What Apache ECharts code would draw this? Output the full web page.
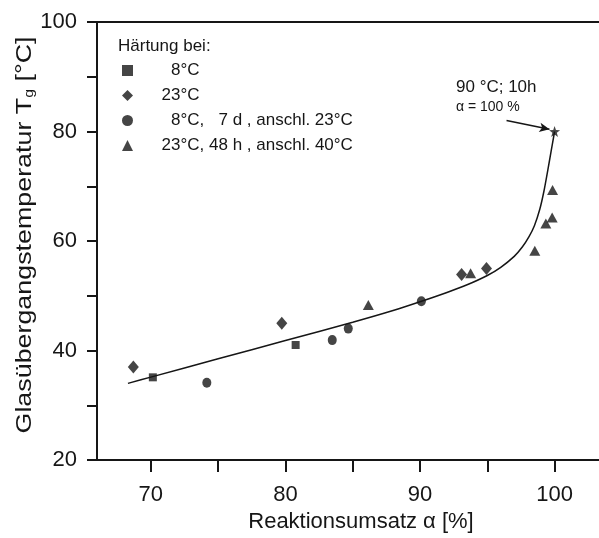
<!DOCTYPE html>
<html>
<head>
<meta charset="utf-8">
<script src="https://cdn.jsdelivr.net/npm/echarts@6/dist/echarts.min.js"></script>
<style>
  html, body { margin: 0; padding: 0; background: #fff; }
  #chart { width: 599px; height: 538px; }
</style>
</head>
<body>
<div id="chart"></div>
<script>
// Reaktionsumsatz α [%] vs. Glasübergangstemperatur Tg [°C]
const xTicks = [70, 75, 80, 85, 90, 95, 100];
const xLabels = [70, 80, 90, 100];
const yLabels = [20, 40, 60, 80, 100];

const seriesNames = ['  8°C', '23°C', '  8°C,   7 d , anschl. 23°C', '23°C, 48 h , anschl. 40°C'];

// Härtung bei 8 °C
const cure8 = [[70.15, 35.1], [80.76, 41.0]];
// Härtung bei 23 °C
const cure23 = [[68.7, 37.0], [79.73, 45.0], [93.09, 53.9], [94.94, 55.0]];
// 8 °C, 7 d, anschließend 23 °C
const cure8then23 = [[74.16, 34.1], [83.48, 41.9], [84.67, 44.0], [90.1, 49.0]];
// 23 °C, 48 h, anschließend 40 °C
const cure23then40 = [[86.16, 48.3], [93.76, 54.1], [98.53, 58.2], [99.35, 63.2], [99.82, 64.3], [99.85, 69.3]];
// Vollständig ausgehärtet: 90 °C, 10 h
const fullCure = [[100, 80]];

// Ausgleichskurve Tg(α)
const fitCurve = [
  [68.3, 34.0], [70, 35.14], [75, 38.48], [80, 41.82], [85, 45.16], [88, 47.3],
  [90, 48.9], [92, 50.6], [93.5, 52.0], [95, 53.7], [96, 55.2], [97, 57.2],
  [97.6, 58.9], [98.1, 60.8], [98.5, 62.8], [98.9, 65.8], [99.2, 69.0],
  [99.5, 73.0], [99.75, 76.5], [100, 80]
];

// Pfeil zur Beschriftung des Endpunkts
const arrowFrom = [96.43, 82.0];
const arrowTo = [99.62, 80.4];

const ink = '#161616';
const font = '"Liberation Sans", Arial, Helvetica, sans-serif';
const starPath = 'path://M0,-10L2.35,-3.24L9.51,-3.09L3.8,1.24L5.88,8.09L0,4L-5.88,8.09L-3.8,1.24L-9.51,-3.09L-2.35,-3.24Z';

const chart = echarts.init(document.getElementById('chart'), null, { renderer: 'canvas' });

chart.setOption({
  animation: false,
  backgroundColor: '#fff',
  textStyle: { fontFamily: font, color: ink },
  title: {
    text: 'Härtung bei:',
    left: 118,
    top: 38,
    padding: 0,
    textStyle: { fontFamily: font, fontSize: 17, fontWeight: 'normal', color: ink, lineHeight: 17 }
  },
  legend: {
    orient: 'vertical',
    left: 122,
    top: 62,
    padding: 0,
    itemWidth: 11,
    itemHeight: 11,
    itemGap: 8,
    data: seriesNames,
    formatter: n => '     ' + n,
    textStyle: { fontFamily: font, fontSize: 17, color: ink, lineHeight: 17 }
  },
  grid: { left: 97, right: 0, top: 22, bottom: 77, containLabel: false },
  xAxis: [{
    type: 'value',
    min: 66,
    max: 103.3,
    position: 'bottom',
    name: 'Reaktionsumsatz α [%]',
    nameLocation: 'middle',
    nameGap: 51,
    nameTextStyle: { fontFamily: font, fontSize: 22, color: ink, padding: [0, 0, 0, 26] },
    axisLine: { show: true, onZero: false, lineStyle: { color: ink, width: 2 } },
    axisTick: { show: true, inside: false, length: 12, lineStyle: { color: ink, width: 2 }, customValues: xTicks },
    axisLabel: { fontFamily: font, fontSize: 22, color: ink, margin: 24, customValues: xLabels },
    splitLine: { show: false }
  }, {
    type: 'value',
    min: 66,
    max: 103.3,
    position: 'top',
    axisLine: { show: true, onZero: false, lineStyle: { color: ink, width: 2 } },
    axisTick: { show: false },
    axisLabel: { show: false },
    splitLine: { show: false }
  }],
  yAxis: {
    type: 'value',
    min: 20,
    max: 100,
    interval: 10,
    axisLine: { show: true, onZero: false, lineStyle: { color: ink, width: 2 } },
    axisTick: { show: true, length: 10, lineStyle: { color: ink, width: 2 } },
    axisLabel: { fontFamily: font, fontSize: 22, color: ink, margin: 20, customValues: yLabels },
    splitLine: { show: false }
  },
  graphic: [{
    type: 'text',
    x: 25,
    y: 235,
    rotation: Math.PI / 2,
    scaleX: 1.22,
    style: {
      text: 'Glasübergangstemperatur T{sub|g} [°C]',
      font: '22px ' + font,
      fill: ink,
      align: 'center',
      verticalAlign: 'middle',
      rich: {
        sub: { fontSize: 13, fontFamily: font, lineHeight: 6, verticalAlign: 'bottom', fill: ink }
      }
    }
  }, {
    type: 'text',
    x: 456,
    y: 87,
    style: { text: '90 °C; 10h', font: '17px ' + font, fill: ink, align: 'left', verticalAlign: 'middle' }
  }, {
    type: 'text',
    x: 456,
    y: 107,
    style: { text: 'α = 100 %', font: '14px ' + font, fill: ink, align: 'left', verticalAlign: 'middle' }
  }],
  series: [{
    name: 'Ausgleichskurve',
    type: 'line',
    data: fitCurve,
    showSymbol: false,
    smooth: 0.3,
    lineStyle: { color: ink, width: 1.5 },
    silent: true,
    z: 2
  }, {
    name: seriesNames[0],
    type: 'scatter',
    symbol: 'rect',
    symbolSize: 8,
    itemStyle: { color: ink },
    data: cure8,
    z: 3
  }, {
    name: seriesNames[1],
    type: 'scatter',
    symbol: 'diamond',
    symbolSize: [11, 13],
    itemStyle: { color: ink },
    data: cure23,
    z: 3
  }, {
    name: seriesNames[2],
    type: 'scatter',
    symbol: 'circle',
    symbolSize: [9, 10],
    itemStyle: { color: ink },
    data: cure8then23,
    z: 3
  }, {
    name: seriesNames[3],
    type: 'scatter',
    symbol: 'triangle',
    symbolSize: [11, 10],
    itemStyle: { color: ink },
    data: cure23then40,
    z: 3
  }, {
    name: '90 °C; 10h',
    type: 'scatter',
    symbol: starPath,
    symbolSize: 11,
    itemStyle: { color: ink },
    data: fullCure,
    z: 4,
    markLine: {
      silent: true,
      symbol: ['none', 'arrow'],
      symbolSize: [7, 10],
      label: { show: false },
      lineStyle: { color: ink, width: 1.5, type: 'solid' },
      data: [[{ coord: arrowFrom }, { coord: arrowTo }]]
    }
  }]
});
</script>
</body>
</html>
